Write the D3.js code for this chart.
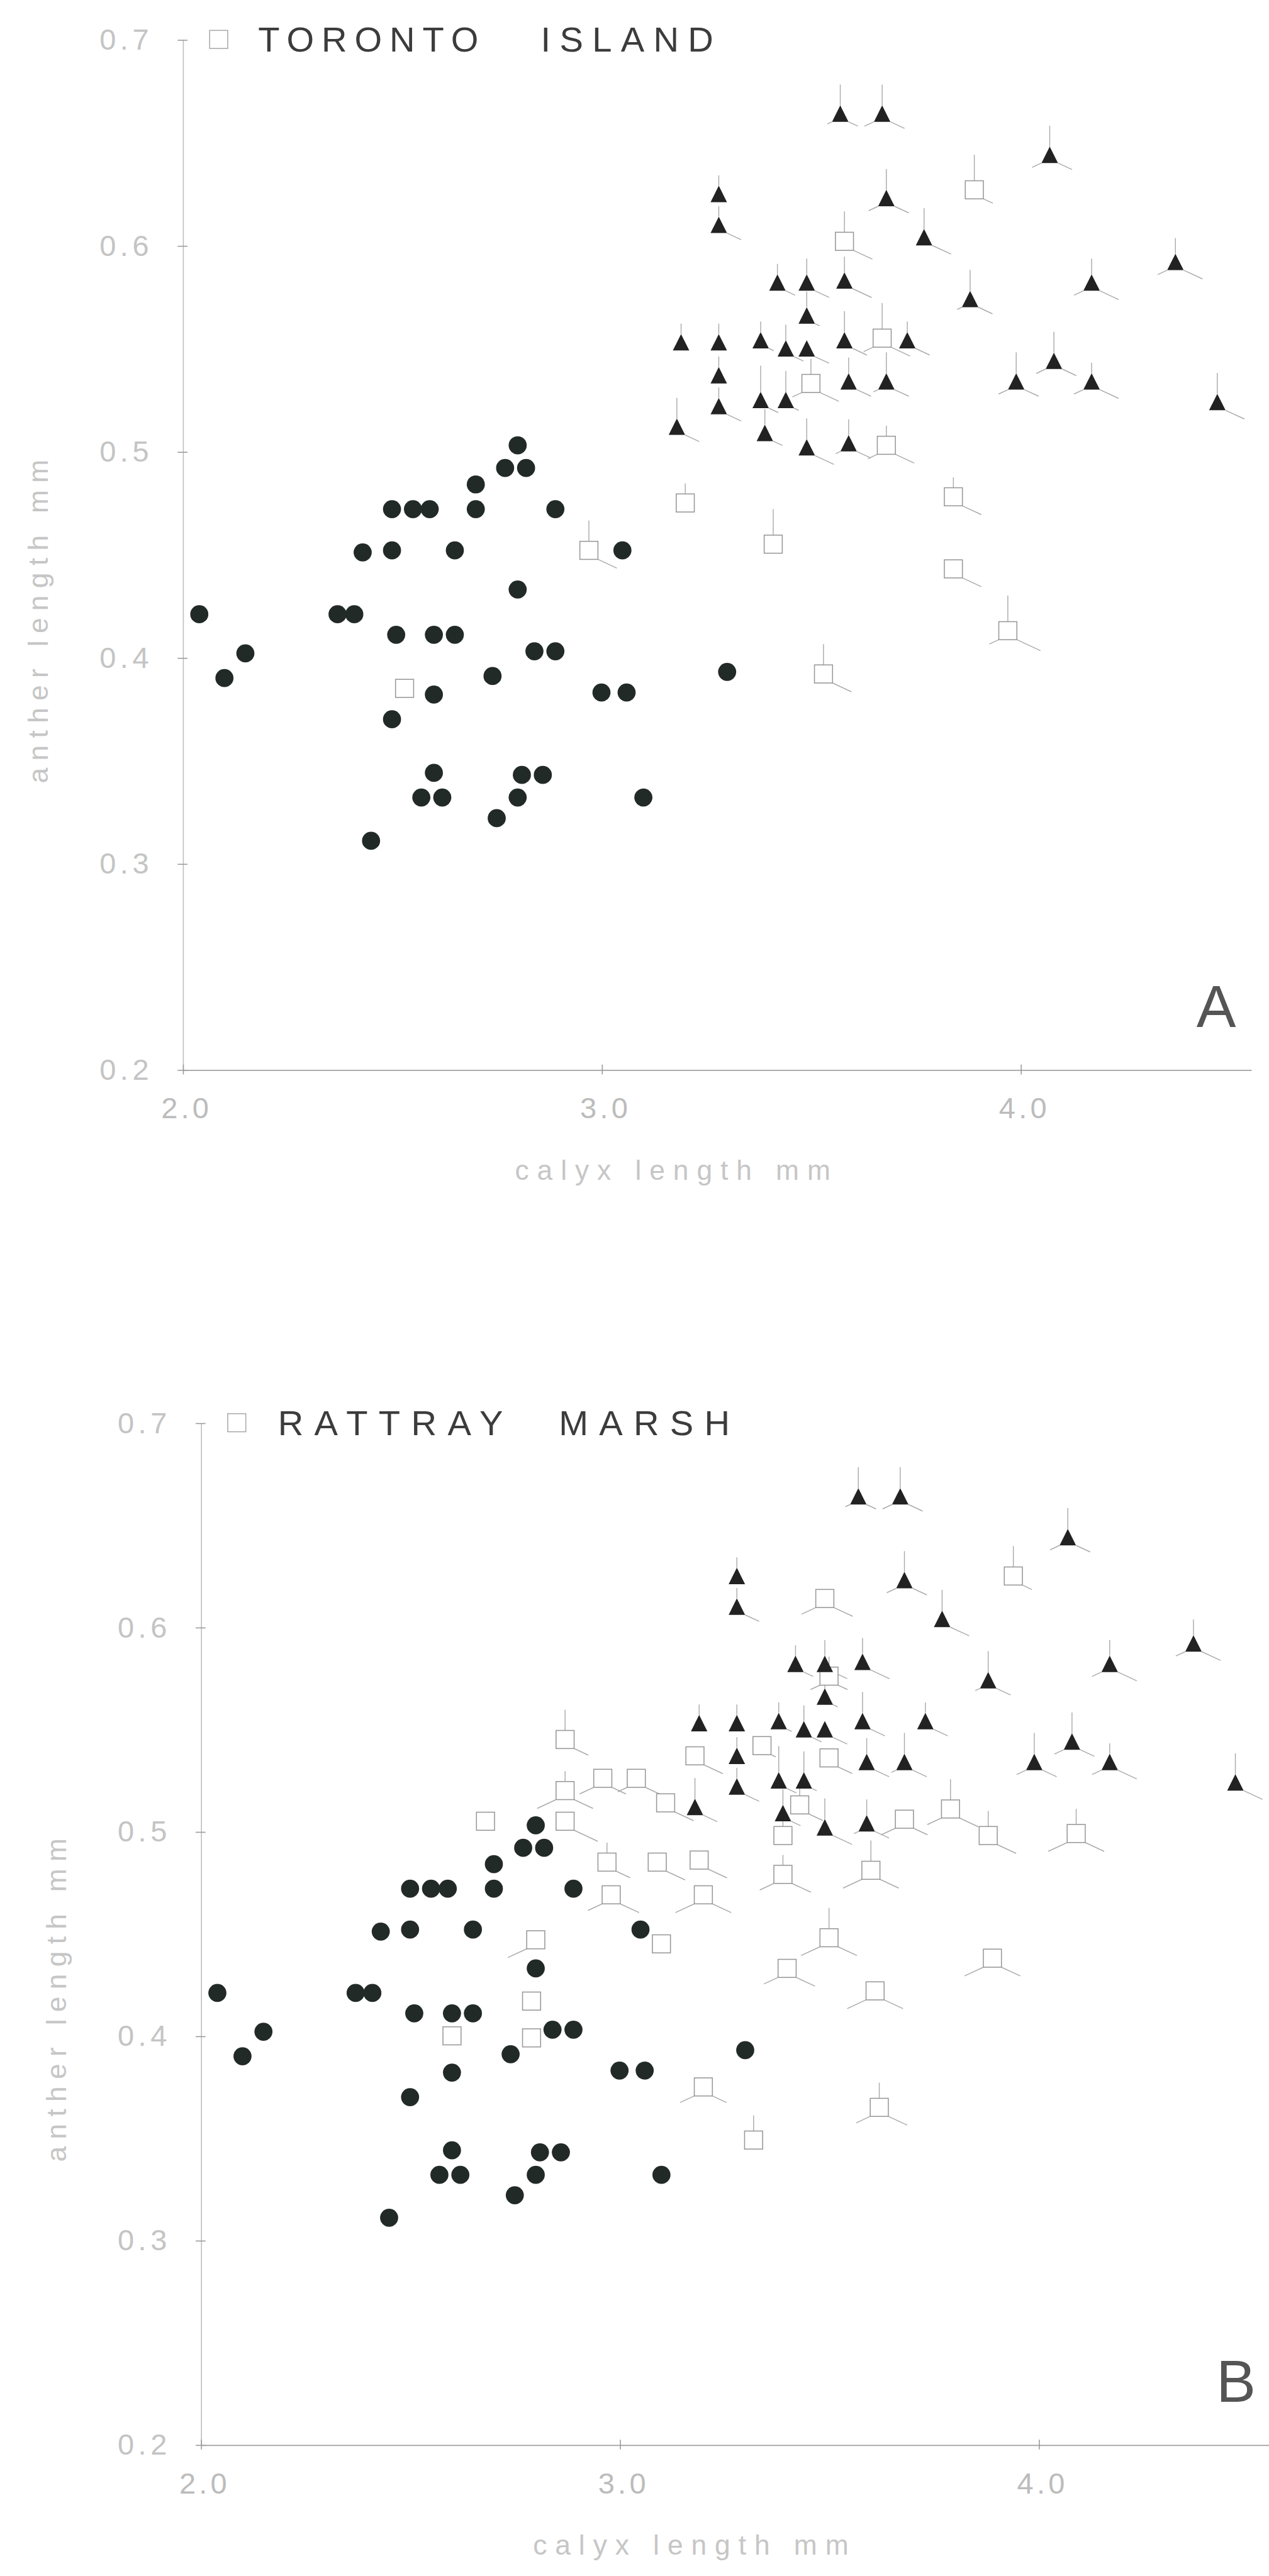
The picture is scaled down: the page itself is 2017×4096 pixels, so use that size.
<!DOCTYPE html>
<html lang="en">
<head>
<meta charset="utf-8">
<title>anther length vs calyx length</title>
<script src="https://cdn.jsdelivr.net/npm/d3@7"></script>
<style>
  body { margin: 0; background: #fff; }
  svg { display: block; }
</style>
</head>
<body>
<script>
// ---- data: calyx length (mm), anther length (mm) ----
// filled circles (same in both panels)
const dotCalyx  = [2.80,2.77,2.82,2.70,2.70,2.50,2.55,2.59,2.89,2.43,2.50,2.65,3.05,2.80,2.04,2.37,2.41,2.51,2.60,2.65,
                   2.15,2.84,2.89,2.10,2.74,2.60,3.00,3.06,2.50,2.60,2.81,2.86,2.57,2.62,2.80,3.10,2.75,2.45,3.30];
const dotAnther = [0.503,0.492,0.492,0.484,0.472,0.472,0.472,0.472,0.472,0.451,0.452,0.452,0.452,0.433,0.421,0.421,0.421,0.411,0.411,0.411,
                   0.402,0.403,0.403,0.390,0.391,0.382,0.383,0.383,0.370,0.344,0.343,0.343,0.332,0.332,0.332,0.332,0.322,0.311,0.393];

// filled triangles (same in both panels); rays = [up, down-left, down-right]
const triCalyx  = [3.57,3.67,4.07,3.28,3.68,3.28,3.77,4.37,3.42,3.49,3.58,4.17,3.88,3.49,3.19,3.28,3.38,3.44,
                   3.49,3.58,3.73,4.08,3.28,3.59,3.68,3.99,4.17,3.28,3.38,3.44,4.47,3.18,3.39,3.49,3.59];
const triAnther = [0.664,0.664,0.644,0.625,0.623,0.610,0.604,0.592,0.582,0.582,0.583,0.582,0.574,0.566,0.553,0.553,0.554,0.550,
                   0.550,0.554,0.554,0.544,0.537,0.534,0.534,0.534,0.534,0.522,0.525,0.525,0.524,0.512,0.509,0.502,0.504];
const triRays = [[2,0.5,1],[2,1,1.5],[2,1,1.5],[1,0,0],[2,1,1.5],[1,0,1.5],[2,0,2],[1.5,1,2],[1,0,1],[1.5,0,1.5],
                 [1.5,0,2],[1.5,1,2],[2,0.5,1.5],[1.5,0,0.5],[1,0,0],[1,0,0],[1,0,0.5],[1.5,0,1],[0,0,1.5],[2,0,1.5],
                 [1,0,1.5],[2,1,1.5],[1,0,0],[1.5,0,1.5],[2,0.5,1.5],[2,1,1.5],[1,1,2],[1,0,1.5],[2.5,0,1],[2,0,0.5],
                 [2,0,2],[2,0,1.5],[1.5,0,1],[2,0,2],[1.5,0.5,1.5]];

// open squares, panel A: Toronto Island
const torontoCalyx  = [3.58,3.89,3.67,3.50,3.68,3.20,3.41,3.84,3.84,3.97,3.53,2.97,2.53];
const torontoAnther = [0.602,0.627,0.555,0.533,0.503,0.475,0.455,0.478,0.443,0.413,0.392,0.452,0.385];
const torontoRays = [[2,0,2],[2.5,0,1],[2.5,1,2],[1.5,1,2],[1,1,2],[1,0,0],[2.5,0,0],[1,0,2],[0,0,2],[2.5,1,2.5],
                     [2,0,2],[2,0,2],[0,0,0]];

// open squares, panel B: Rattray Marsh
const rattrayCalyx  = [3.94,3.49,2.87,3.50,3.34,3.18,3.50,2.96,3.04,2.87,3.11,3.43,2.68,2.87,3.68,3.79,3.39,3.88,4.09,
                       2.97,3.09,3.19,3.39,3.60,2.98,3.20,2.80,3.10,3.50,3.40,3.89,2.79,3.61,2.60,2.79,3.20,3.32,3.62];
const rattrayAnther = [0.625,0.614,0.545,0.576,0.542,0.537,0.536,0.526,0.526,0.520,0.514,0.513,0.505,0.505,0.506,0.511,0.498,0.498,0.499,
                       0.485,0.485,0.486,0.479,0.481,0.469,0.469,0.447,0.445,0.448,0.433,0.438,0.417,0.422,0.400,0.399,0.375,0.349,0.365];
const rattrayRays = [[2,0,1],[0,1.5,2],[2,0,1.5],[1,1,1],[0,0,0.5],[0,0,2],[0,0,1.5],[0,1.5,1.5],[0,1,2],[1,2,2],
                     [0,0,2],[1,0,1.5],[0,0,0],[0,0,2.5],[0,1.5,1.5],[2,1.5,2],[1,0,0],[1.5,0,2],[1.5,2,2],[1,0,1.5],
                     [0,0,2],[0,0,2],[1,1.5,2],[2,2,2],[0,1.5,2],[0,2,2],[0,2,0],[0,0,0],[2,2,2],[0,1.5,2],
                     [0,2,2],[0,0,0],[0,2,2],[0,0,0],[0,0,0],[0,1.5,1.5],[1.5,0,0],[1.5,1.5,2]];

const yTicks = [0.2, 0.3, 0.4, 0.5, 0.6, 0.7];
const xTicks = [2.0, 3.0, 4.0];
const xTitle = "calyx length  mm";
const yTitle = "anther length  mm";

// ---- layout (drawing units: the reference at 772 wide) ----
const W = 772, H = 1568;
const FONT = "'Liberation Sans', Arial, sans-serif";

const panels = [
  { left: 111, bottom: 651, top: 24, words: ["TORONTO", "ISLAND"], wordX: [157, 329], wordLen: [134, 105],
    letter: "A", letterX: 740, calyx: torontoCalyx, anther: torontoAnther, rays: torontoRays },
  { left: 122, bottom: 1488, top: 866, words: ["RATTRAY", "MARSH"], wordX: [169, 340], wordLen: [137, 104],
    letter: "B", letterX: 752, calyx: rattrayCalyx, anther: rattrayAnther, rays: rattrayRays }
];

const svg = d3.select("body").append("svg")
  .attr("width", 2017)
  .attr("height", 4096)
  .attr("viewBox", `0 0 ${W} ${H}`)
  .style("background", "#fff");

const rayLen = d3.scaleLinear().domain([0, 3]).range([0, 19]);
const ang = 25 * Math.PI / 180;

// three rays: up from the top, and down-left / down-right from the lower corners
function raySegments(cx, cy, half, r) {
  const segs = [];
  if (r[0] > 0) segs.push([cx, cy - half, cx, cy - half - rayLen(r[0])]);
  if (r[1] > 0) segs.push([cx - half, cy + half, cx - half - rayLen(r[1]) * Math.cos(ang), cy + half + rayLen(r[1]) * Math.sin(ang)]);
  if (r[2] > 0) segs.push([cx + half, cy + half, cx + half + rayLen(r[2]) * Math.cos(ang), cy + half + rayLen(r[2]) * Math.sin(ang)]);
  return segs;
}

panels.forEach(p => {
  const g = svg.append("g");

  const x = d3.scaleLinear().domain([2.0, 4.55]).range([p.left, p.left + 650]);
  const y = d3.scaleLinear().domain([0.2, 0.7]).range([p.bottom, p.top]);

  // y axis
  const gy = g.append("g")
    .attr("transform", `translate(${p.left},0)`)
    .call(d3.axisLeft(y).tickValues(yTicks).tickFormat(d3.format(".1f"))
      .tickSizeOuter(0).tickSizeInner(3).tickPadding(15));
  gy.attr("font-family", FONT).attr("font-size", 18);
  gy.select(".domain").attr("stroke", "#bdbdbd").attr("stroke-width", 0.6);
  gy.selectAll(".tick line").attr("x1", 3).attr("stroke", "#9a9a9a").attr("stroke-width", 0.6);
  gy.selectAll(".tick text").attr("fill", "#c4c4c4").attr("letter-spacing", 2.5);

  // x axis
  const gx = g.append("g")
    .attr("transform", `translate(0,${p.bottom})`)
    .call(d3.axisBottom(x).tickValues(xTicks).tickFormat(d3.format(".1f"))
      .tickSizeOuter(0).tickSizeInner(3).tickPadding(14));
  gx.attr("font-family", FONT).attr("font-size", 18);
  gx.select(".domain").attr("stroke", "#a0a0a0").attr("stroke-width", 0.7);
  gx.selectAll(".tick line").attr("y1", -3).attr("stroke", "#999").attr("stroke-width", 0.6);
  gx.selectAll(".tick text").attr("fill", "#bcbcbc").attr("letter-spacing", 2).attr("dx", 2);

  // axis titles
  g.append("text")
    .attr("transform", `translate(${p.left - 88},${y(0.4175)}) rotate(-90)`)
    .attr("text-anchor", "middle").attr("dy", "0.35em")
    .attr("font-family", FONT).attr("font-size", 17).attr("fill", "#c6c6c6")
    .attr("textLength", 197).attr("lengthAdjust", "spacing")
    .text(yTitle);
  g.append("text")
    .attr("x", x(3.17)).attr("y", p.bottom + 67)
    .attr("text-anchor", "middle")
    .attr("font-family", FONT).attr("font-size", 17).attr("fill", "#c6c6c6")
    .attr("textLength", 192).attr("lengthAdjust", "spacing")
    .text(xTitle);

  // rays
  const segs = [];
  p.calyx.forEach((v, i) => segs.push(...raySegments(x(v), y(p.anther[i]), 5.5, p.rays[i])));
  triCalyx.forEach((v, i) => segs.push(...raySegments(x(v), y(triAnther[i]), 5, triRays[i])));
  g.append("g").selectAll("line").data(segs).join("line")
    .attr("x1", d => d[0]).attr("y1", d => d[1])
    .attr("x2", d => d[2]).attr("y2", d => d[3])
    .attr("stroke", "#aaa").attr("stroke-width", 0.55);

  // open squares
  g.append("g").selectAll("rect").data(d3.range(p.calyx.length)).join("rect")
    .attr("x", i => x(p.calyx[i]) - 5.5).attr("y", i => y(p.anther[i]) - 5.5)
    .attr("width", 11).attr("height", 11)
    .attr("fill", "#fff").attr("stroke", "#999").attr("stroke-width", 0.6);

  // filled circles
  g.append("g").selectAll("circle").data(d3.range(dotCalyx.length)).join("circle")
    .attr("cx", i => x(dotCalyx[i])).attr("cy", i => y(dotAnther[i]))
    .attr("r", 5.5).attr("fill", "#222a27");

  // filled triangles
  g.append("g").selectAll("path").data(d3.range(triCalyx.length)).join("path")
    .attr("d", i => {
      const cx = x(triCalyx[i]), cy = y(triAnther[i]);
      return `M${cx},${cy - 5}L${cx + 5},${cy + 5}L${cx - 5},${cy + 5}Z`;
    })
    .attr("fill", "#222");

  // legend square + site name on the 0.7 line
  g.append("rect")
    .attr("x", p.left + 22 - 5.5).attr("y", y(0.7) - 5.5)
    .attr("width", 11).attr("height", 11)
    .attr("fill", "#fff").attr("stroke", "#aaa").attr("stroke-width", 0.6);
  p.words.forEach((w, k) => {
    g.append("text")
      .attr("x", p.wordX[k]).attr("y", y(0.7) + 7.5)
      .attr("font-family", FONT).attr("font-size", 21.5).attr("fill", "#3c3c3c")
      .attr("textLength", p.wordLen[k]).attr("lengthAdjust", "spacing")
      .text(w);
  });

  // panel letter
  g.append("text")
    .attr("x", p.letterX).attr("y", p.bottom - 26)
    .attr("text-anchor", "middle")
    .attr("font-family", FONT).attr("font-size", 36).attr("fill", "#555")
    .text(p.letter);
});
</script>
</body>
</html>
